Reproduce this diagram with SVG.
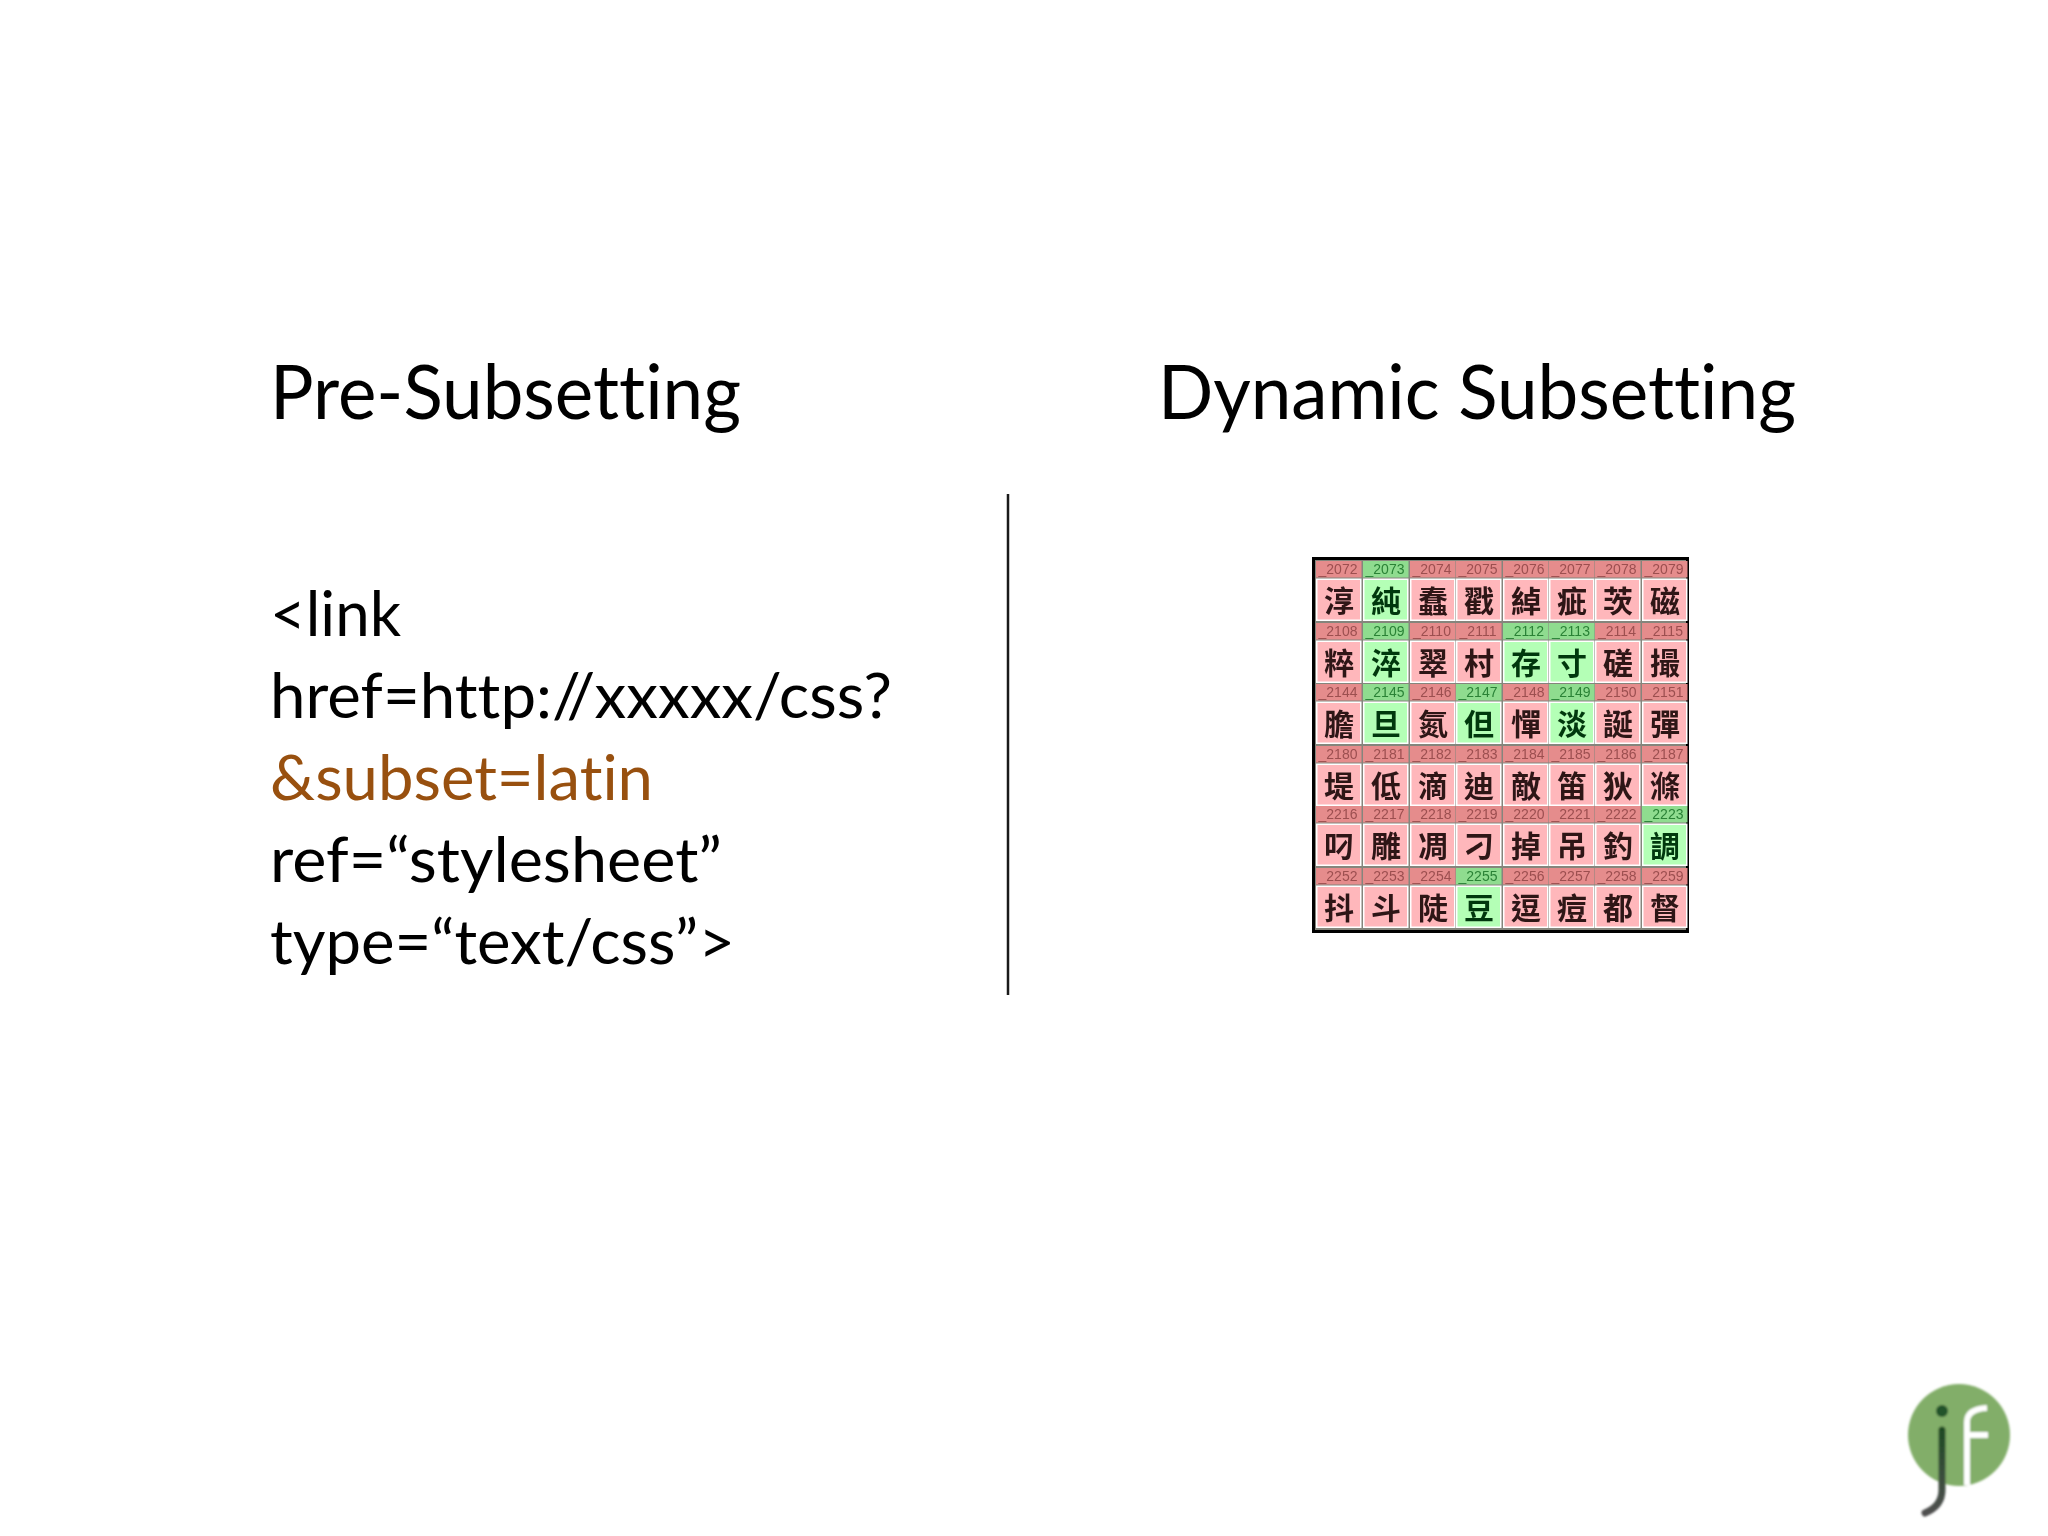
<svg xmlns="http://www.w3.org/2000/svg" width="2048" height="1536" viewBox="0 0 2048 1536">
<style>
.t{font-family:"Lato","Open Sans","Liberation Sans",sans-serif;fill:#000;font-variant-ligatures:none;font-feature-settings:"liga" 0,"dlig" 0}
.h{font-size:76px}
.c{font-size:62px}
.o{fill:#98500f}
.cell{--l:#e58c8c;--f:#ffb7bb;--n:#9c4f50;--z:#2e1618}
.g{--l:#8fdc8f;--f:#b4ffb6;--n:#2a8236;--z:#06380f}
.n{font-family:"Liberation Sans",sans-serif;font-size:14px;fill:var(--n);text-anchor:middle}
.z{font-family:"Noto Sans CJK TC","Noto Sans CJK SC",sans-serif;font-weight:700;font-size:30px;fill:var(--z);text-anchor:middle}
</style>
<defs>
<filter id="soft" x="-5%" y="-5%" width="110%" height="110%"><feGaussianBlur stdDeviation="0.7"/></filter>
<filter id="soft2" x="-10%" y="-10%" width="120%" height="120%"><feGaussianBlur stdDeviation="0.9"/></filter>
<linearGradient id="jg" x1="0" y1="0" x2="0" y2="1"><stop offset="0" stop-color="#1f4a24"/><stop offset="1" stop-color="#505050"/></linearGradient>
<g id="c">
<rect x="0" y="0" width="45.5" height="16.5" style="fill:var(--l)"/>
<rect x="0" y="17.5" width="45.5" height="42.5" fill="#fff"/>
<rect x="1.5" y="19" width="42.5" height="39.5" style="fill:var(--f)"/>
</g>
</defs>
<rect id="background" width="2048" height="1536" fill="#fff"/>
<g id="pre-subsetting">
<text class="t h" x="270" y="419" textLength="471" lengthAdjust="spacingAndGlyphs">Pre-Subsetting</text>
<text class="t c" x="270" y="636" textLength="131" lengthAdjust="spacingAndGlyphs">&lt;link</text>
<text class="t c" x="270" y="718" textLength="622" lengthAdjust="spacingAndGlyphs">href=http://xxxxx/css?</text>
<text class="t c o" x="270" y="800" textLength="383" lengthAdjust="spacingAndGlyphs">&amp;subset=latin</text>
<text class="t c" x="270" y="882" textLength="452" lengthAdjust="spacingAndGlyphs">ref=“stylesheet”</text>
<text class="t c" x="270" y="964" textLength="465" lengthAdjust="spacingAndGlyphs">type=“text/css”&gt;</text>
</g>
<g id="connectors">
<line x1="1008" y1="494" x2="1008" y2="995" stroke="#1a1a1a" stroke-width="2.5"/>
</g>
<g id="dynamic-subsetting">
<text class="t h" x="1158" y="419" textLength="638" lengthAdjust="spacingAndGlyphs">Dynamic Subsetting</text>
<g id="glyph-grid" filter="url(#soft)">
<rect x="1314" y="559" width="373" height="372" fill="#85857c"/>
<rect x="1313.5" y="558.5" width="374" height="373" fill="none" stroke="#000" stroke-width="3"/>
<g id="row1">
<g class="cell" transform="translate(1316,561)"><use href="#c"/><text class="n" x="22" y="13">_2072</text><text class="z" x="23" y="51">淳</text></g>
<g class="cell g" transform="translate(1363,561)"><use href="#c"/><text class="n" x="22" y="13">_2073</text><text class="z" x="23" y="51">純</text></g>
<g class="cell" transform="translate(1410,561)"><use href="#c"/><text class="n" x="22" y="13">_2074</text><text class="z" x="23" y="51">蠢</text></g>
<g class="cell" transform="translate(1456,561)"><use href="#c"/><text class="n" x="22" y="13">_2075</text><text class="z" x="23" y="51">戳</text></g>
<g class="cell" transform="translate(1503,561)"><use href="#c"/><text class="n" x="22" y="13">_2076</text><text class="z" x="23" y="51">綽</text></g>
<g class="cell" transform="translate(1549,561)"><use href="#c"/><text class="n" x="22" y="13">_2077</text><text class="z" x="23" y="51">疵</text></g>
<g class="cell" transform="translate(1595,561)"><use href="#c"/><text class="n" x="22" y="13">_2078</text><text class="z" x="23" y="51">茨</text></g>
<g class="cell" transform="translate(1642,561)"><use href="#c"/><text class="n" x="22" y="13">_2079</text><text class="z" x="23" y="51">磁</text></g>
</g>
<g id="row2">
<g class="cell" transform="translate(1316,623)"><use href="#c"/><text class="n" x="22" y="13">_2108</text><text class="z" x="23" y="51">粹</text></g>
<g class="cell g" transform="translate(1363,623)"><use href="#c"/><text class="n" x="22" y="13">_2109</text><text class="z" x="23" y="51">淬</text></g>
<g class="cell" transform="translate(1410,623)"><use href="#c"/><text class="n" x="22" y="13">_2110</text><text class="z" x="23" y="51">翠</text></g>
<g class="cell" transform="translate(1456,623)"><use href="#c"/><text class="n" x="22" y="13">_2111</text><text class="z" x="23" y="51">村</text></g>
<g class="cell g" transform="translate(1503,623)"><use href="#c"/><text class="n" x="22" y="13">_2112</text><text class="z" x="23" y="51">存</text></g>
<g class="cell g" transform="translate(1549,623)"><use href="#c"/><text class="n" x="22" y="13">_2113</text><text class="z" x="23" y="51">寸</text></g>
<g class="cell" transform="translate(1595,623)"><use href="#c"/><text class="n" x="22" y="13">_2114</text><text class="z" x="23" y="51">磋</text></g>
<g class="cell" transform="translate(1642,623)"><use href="#c"/><text class="n" x="22" y="13">_2115</text><text class="z" x="23" y="51">撮</text></g>
</g>
<g id="row3">
<g class="cell" transform="translate(1316,684)"><use href="#c"/><text class="n" x="22" y="13">_2144</text><text class="z" x="23" y="51">膽</text></g>
<g class="cell g" transform="translate(1363,684)"><use href="#c"/><text class="n" x="22" y="13">_2145</text><text class="z" x="23" y="51">旦</text></g>
<g class="cell" transform="translate(1410,684)"><use href="#c"/><text class="n" x="22" y="13">_2146</text><text class="z" x="23" y="51">氮</text></g>
<g class="cell g" transform="translate(1456,684)"><use href="#c"/><text class="n" x="22" y="13">_2147</text><text class="z" x="23" y="51">但</text></g>
<g class="cell" transform="translate(1503,684)"><use href="#c"/><text class="n" x="22" y="13">_2148</text><text class="z" x="23" y="51">憚</text></g>
<g class="cell g" transform="translate(1549,684)"><use href="#c"/><text class="n" x="22" y="13">_2149</text><text class="z" x="23" y="51">淡</text></g>
<g class="cell" transform="translate(1595,684)"><use href="#c"/><text class="n" x="22" y="13">_2150</text><text class="z" x="23" y="51">誕</text></g>
<g class="cell" transform="translate(1642,684)"><use href="#c"/><text class="n" x="22" y="13">_2151</text><text class="z" x="23" y="51">彈</text></g>
</g>
<g id="row4">
<g class="cell" transform="translate(1316,746)"><use href="#c"/><text class="n" x="22" y="13">_2180</text><text class="z" x="23" y="51">堤</text></g>
<g class="cell" transform="translate(1363,746)"><use href="#c"/><text class="n" x="22" y="13">_2181</text><text class="z" x="23" y="51">低</text></g>
<g class="cell" transform="translate(1410,746)"><use href="#c"/><text class="n" x="22" y="13">_2182</text><text class="z" x="23" y="51">滴</text></g>
<g class="cell" transform="translate(1456,746)"><use href="#c"/><text class="n" x="22" y="13">_2183</text><text class="z" x="23" y="51">迪</text></g>
<g class="cell" transform="translate(1503,746)"><use href="#c"/><text class="n" x="22" y="13">_2184</text><text class="z" x="23" y="51">敵</text></g>
<g class="cell" transform="translate(1549,746)"><use href="#c"/><text class="n" x="22" y="13">_2185</text><text class="z" x="23" y="51">笛</text></g>
<g class="cell" transform="translate(1595,746)"><use href="#c"/><text class="n" x="22" y="13">_2186</text><text class="z" x="23" y="51">狄</text></g>
<g class="cell" transform="translate(1642,746)"><use href="#c"/><text class="n" x="22" y="13">_2187</text><text class="z" x="23" y="51">滌</text></g>
</g>
<g id="row5">
<g class="cell" transform="translate(1316,806)"><use href="#c"/><text class="n" x="22" y="13">_2216</text><text class="z" x="23" y="51">叼</text></g>
<g class="cell" transform="translate(1363,806)"><use href="#c"/><text class="n" x="22" y="13">_2217</text><text class="z" x="23" y="51">雕</text></g>
<g class="cell" transform="translate(1410,806)"><use href="#c"/><text class="n" x="22" y="13">_2218</text><text class="z" x="23" y="51">凋</text></g>
<g class="cell" transform="translate(1456,806)"><use href="#c"/><text class="n" x="22" y="13">_2219</text><text class="z" x="23" y="51">刁</text></g>
<g class="cell" transform="translate(1503,806)"><use href="#c"/><text class="n" x="22" y="13">_2220</text><text class="z" x="23" y="51">掉</text></g>
<g class="cell" transform="translate(1549,806)"><use href="#c"/><text class="n" x="22" y="13">_2221</text><text class="z" x="23" y="51">吊</text></g>
<g class="cell" transform="translate(1595,806)"><use href="#c"/><text class="n" x="22" y="13">_2222</text><text class="z" x="23" y="51">釣</text></g>
<g class="cell g" transform="translate(1642,806)"><use href="#c"/><text class="n" x="22" y="13">_2223</text><text class="z" x="23" y="51">調</text></g>
</g>
<g id="row6">
<g class="cell" transform="translate(1316,868)"><use href="#c"/><text class="n" x="22" y="13">_2252</text><text class="z" x="23" y="51">抖</text></g>
<g class="cell" transform="translate(1363,868)"><use href="#c"/><text class="n" x="22" y="13">_2253</text><text class="z" x="23" y="51">斗</text></g>
<g class="cell" transform="translate(1410,868)"><use href="#c"/><text class="n" x="22" y="13">_2254</text><text class="z" x="23" y="51">陡</text></g>
<g class="cell g" transform="translate(1456,868)"><use href="#c"/><text class="n" x="22" y="13">_2255</text><text class="z" x="23" y="51">豆</text></g>
<g class="cell" transform="translate(1503,868)"><use href="#c"/><text class="n" x="22" y="13">_2256</text><text class="z" x="23" y="51">逗</text></g>
<g class="cell" transform="translate(1549,868)"><use href="#c"/><text class="n" x="22" y="13">_2257</text><text class="z" x="23" y="51">痘</text></g>
<g class="cell" transform="translate(1595,868)"><use href="#c"/><text class="n" x="22" y="13">_2258</text><text class="z" x="23" y="51">都</text></g>
<g class="cell" transform="translate(1642,868)"><use href="#c"/><text class="n" x="22" y="13">_2259</text><text class="z" x="23" y="51">督</text></g>
</g>
</g>
</g>
<g id="logo" filter="url(#soft2)">
<circle cx="1959" cy="1435" r="51" fill="#82ae69"/>
<circle cx="1942" cy="1411" r="6" fill="#23522a"/>
<path d="M1942 1430V1490Q1942 1506 1925 1513" fill="none" stroke="url(#jg)" stroke-width="7" stroke-linecap="round"/>
<path d="M1967 1485V1422Q1967 1409 1987 1408M1967 1435H1988" fill="none" stroke="#fff" stroke-width="6"/>
</g>
</svg>
